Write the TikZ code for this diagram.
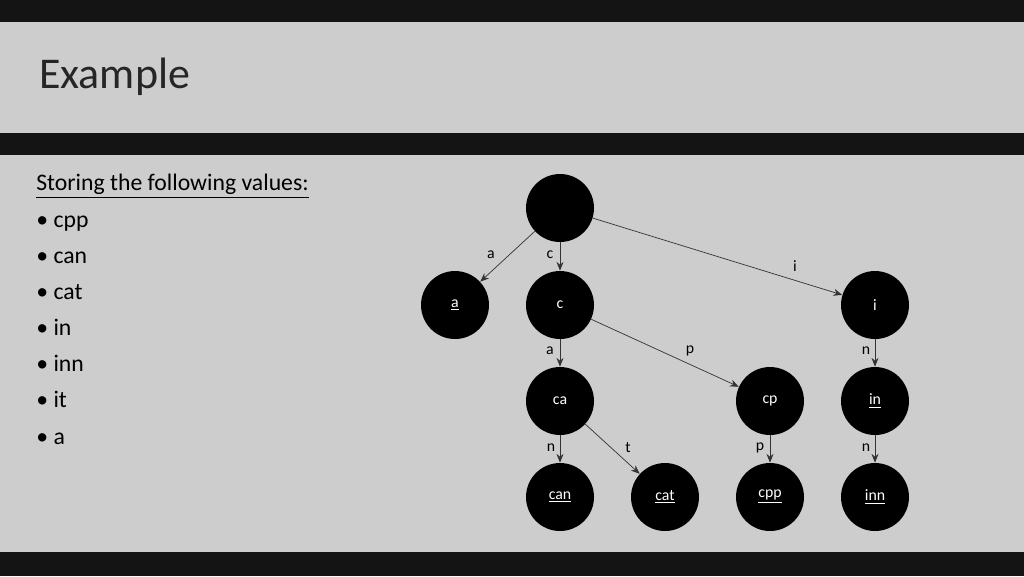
\documentclass[tikz,border=0pt]{standalone}
\usepackage{fontspec}
\setmainfont{Carlito}
\usetikzlibrary{arrows.meta}
\definecolor{band}{HTML}{141414}
\definecolor{bg}{HTML}{CDCDCD}
\begin{document}
\begin{tikzpicture}[x=0.02cm,y=-0.02cm,
  tnode/.style={circle,fill=black,minimum size=1.36cm,inner sep=0pt,text=white,font=\fontsize{9}{10}\selectfont},
  edge/.style={draw=black!80,line width=0.4pt,-{Stealth[length=5pt,width=4pt]}},
  elab/.style={font=\fontsize{9}{10}\selectfont,text=black}]
\useasboundingbox (0,0) rectangle (1024,576);
\fill[band] (0,0) rectangle (1024,576);
\fill[bg] (0,22) rectangle (1024,133);
\fill[bg] (0,155) rectangle (1024,552);
\node[anchor=west,font=\fontsize{25}{28}\selectfont,text=black!85] (title) at (33,77) {Example};
\node[anchor=north west,align=left,font=\fontsize{13.5}{20.6}\selectfont,inner sep=0pt] (list) at (36,174)
 {\underline{Storing the following values:}\\
  • cpp\\ • can\\ • cat\\ • in\\ • inn\\ • it\\ • a};
\node[tnode] (root) at (560,208) {};
\node[tnode] (a) at (455,305) {\underline{a}};
\node[tnode] (c) at (560,305) {c};
\node[tnode] (i) at (875,305) {i};
\node[tnode] (ca) at (560,401) {ca};
\node[tnode] (cp) at (770,401) {cp};
\node[tnode] (in) at (875,401) {\underline{in}};
\node[tnode] (can) at (560,497) {\underline{can}};
\node[tnode] (cat) at (665,497) {\underline{cat}};
\node[tnode] (cpp) at (770,497) {\underline{cpp}};
\node[tnode] (inn) at (875,497) {\underline{inn}};
\draw[edge] (root) -- (a);
\draw[edge] (root) -- (c);
\draw[edge] (root) -- (i);
\draw[edge] (c) -- (ca);
\draw[edge] (c) -- (cp);
\draw[edge] (i) -- (in);
\draw[edge] (ca) -- (can);
\draw[edge] (ca) -- (cat);
\draw[edge] (cp) -- (cpp);
\draw[edge] (in) -- (inn);
\node[elab] (l1) at (491,255) {a};
\node[elab] (l2) at (550,255) {c};
\node[elab] (l3) at (795,266) {i};
\node[elab] (l4) at (550,351) {a};
\node[elab] (l5) at (690,351) {p};
\node[elab] (l6) at (866,351) {n};
\node[elab] (l7) at (551,448) {n};
\node[elab] (l8) at (628,448) {t};
\node[elab] (l9) at (760,448) {p};
\node[elab] (l10) at (866,448) {n};
\end{tikzpicture}
\end{document}
